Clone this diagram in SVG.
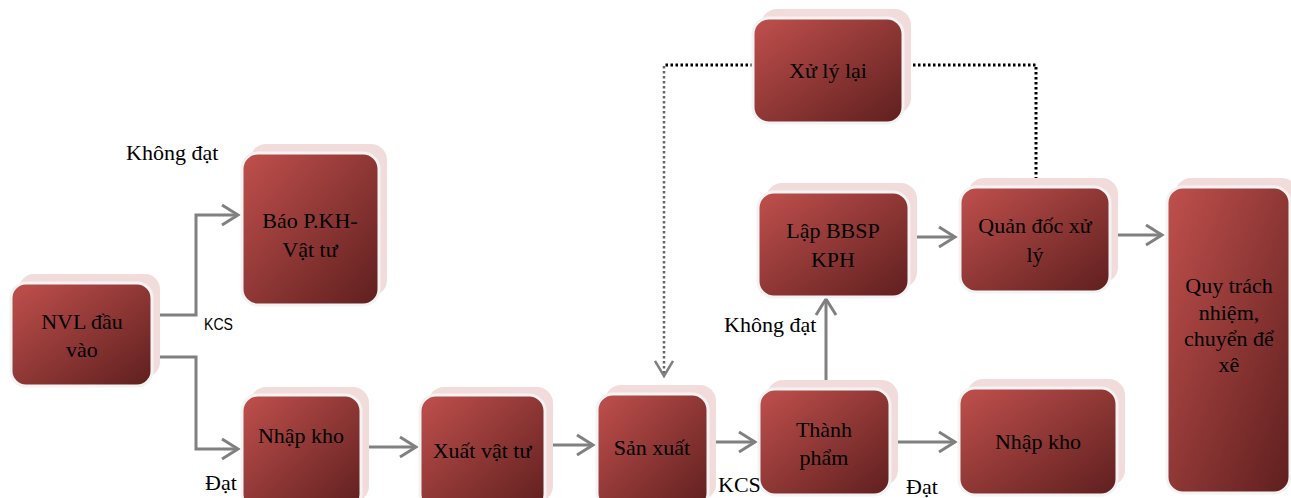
<svg xmlns="http://www.w3.org/2000/svg" width="1291" height="498" viewBox="0 0 1291 498">
<defs>
<linearGradient id="g" x1="0" y1="0" x2="1" y2="1">
<stop offset="0" stop-color="#c0504d"/>
<stop offset="1" stop-color="#5e1f1e"/>
</linearGradient>
<marker id="ah" markerWidth="20" markerHeight="24" refX="17" refY="12" orient="auto" markerUnits="userSpaceOnUse">
<path d="M1,2 L17,12 L1,22" fill="none" stroke="#808080" stroke-width="3"/>
</marker>
<marker id="ahd" markerWidth="22" markerHeight="20" refX="16" refY="10" orient="auto" markerUnits="userSpaceOnUse">
<path d="M1,1 L16,10 L1,19" fill="none" stroke="#808080" stroke-width="2.5"/>
</marker>
</defs>
<style>
.sh{fill:#f2dcdb}
.bx{fill:url(#g);stroke:#f3f3f3;stroke-width:3}
.t{font-family:"Liberation Serif","Times New Roman",serif;font-size:22px;fill:#000}
.c{text-anchor:middle}
.ln{fill:none;stroke:#808080;stroke-width:3}
.dt{fill:none;stroke:#000;stroke-width:3;stroke-dasharray:2.5 2.5}
.dt2{fill:none;stroke:#666;stroke-width:2.5;stroke-dasharray:2.5 2.5}
.s{font-family:"Liberation Sans",Arial,sans-serif;font-size:16px;fill:#000}
</style>
<rect width="1291" height="498" fill="#fff"/>

<g id="connectors">
<path class="ln" d="M152,315 H196 V215 H238" marker-end="url(#ah)"/>
<path class="ln" d="M152,357 H196 V449 H238" marker-end="url(#ah)"/>
<path class="ln" d="M361,447 H416" marker-end="url(#ah)"/>
<path class="ln" d="M545,445 H593" marker-end="url(#ah)"/>
<path class="ln" d="M708,442 H755" marker-end="url(#ah)"/>
<path class="ln" d="M890,442 H955" marker-end="url(#ah)"/>
<path class="ln" d="M826,389 V299" marker-end="url(#ah)"/>
<path class="ln" d="M909,237 H955" marker-end="url(#ah)"/>
<path class="ln" d="M1110,235 H1162" marker-end="url(#ah)"/>
<path class="dt" d="M753,65 H664"/>
<path class="dt2" d="M664,66 V376" marker-end="url(#ahd)"/>
<path class="dt" d="M903,65 H1036 V187"/>
</g>

<g id="n-nvl">
<rect class="sh" x="19" y="274" width="141" height="103" rx="15"/>
<rect class="bx" x="11" y="283" width="141" height="103" rx="15"/>
<text class="t c" x="82" y="329">NVL đầu</text>
<text class="t c" x="82" y="357">vào</text>
</g>
<g id="n-bao">
<rect class="sh" x="250" y="144" width="137" height="152" rx="16"/>
<rect class="bx" x="242" y="153" width="137" height="152" rx="16"/>
<text class="t c" x="310" y="228">Báo P.KH-</text>
<text class="t c" x="310" y="257">Vật tư</text>
</g>
<g id="n-nhapkho1">
<rect class="sh" x="250" y="387" width="119" height="115" rx="16"/>
<rect class="bx" x="242" y="395" width="119" height="115" rx="16"/>
<text class="t c" x="301" y="443">Nhập kho</text>
</g>
<g id="n-xuat">
<rect class="sh" x="428" y="387" width="125" height="115" rx="16"/>
<rect class="bx" x="420" y="395" width="125" height="115" rx="16"/>
<text class="t c" x="482" y="458">Xuất vật tư</text>
</g>
<g id="n-sanxuat">
<rect class="sh" x="605" y="385" width="111" height="115" rx="16"/>
<rect class="bx" x="597" y="394" width="111" height="115" rx="16"/>
<text class="t c" x="652" y="455">Sản xuất</text>
</g>
<g id="n-thanhpham">
<rect class="sh" x="767" y="380" width="131" height="106" rx="16"/>
<rect class="bx" x="759" y="389" width="131" height="106" rx="16"/>
<text class="t c" x="824" y="437">Thành</text>
<text class="t c" x="824" y="465">phẩm</text>
</g>
<g id="n-nhapkho2">
<rect class="sh" x="967" y="379" width="158" height="107" rx="16"/>
<rect class="bx" x="959" y="388" width="158" height="107" rx="16"/>
<text class="t c" x="1038" y="449">Nhập kho</text>
</g>
<g id="n-xulylai">
<rect class="sh" x="761" y="9" width="150" height="105" rx="16"/>
<rect class="bx" x="753" y="18" width="150" height="105" rx="16"/>
<text class="t c" x="828" y="78">Xử lý lại</text>
</g>
<g id="n-lapbbsp">
<rect class="sh" x="766" y="183" width="151" height="105" rx="16"/>
<rect class="bx" x="758" y="192" width="151" height="105" rx="16"/>
<text class="t c" x="833" y="238">Lập BBSP</text>
<text class="t c" x="833" y="267">KPH</text>
</g>
<g id="n-quandoc">
<rect class="sh" x="968" y="178" width="150" height="105" rx="16"/>
<rect class="bx" x="960" y="187" width="150" height="105" rx="16"/>
<text class="t c" x="1035" y="233">Quản đốc xử</text>
<text class="t c" x="1035" y="262">lý</text>
</g>
<g id="n-quy">
<rect class="sh" x="1175" y="178" width="123" height="306" rx="16"/>
<rect class="bx" x="1167" y="187" width="123" height="306" rx="16"/>
<text class="t c" x="1229" y="293">Quy trách</text>
<text class="t c" x="1229" y="320">nhiệm,</text>
<text class="t c" x="1229" y="346">chuyển để</text>
<text class="t c" x="1229" y="372">xê</text>
</g>

<g id="labels">
<text class="t" x="126" y="160">Không đạt</text>
<text class="s" x="204" y="330" textLength="29" lengthAdjust="spacingAndGlyphs">KCS</text>
<text class="t" x="205" y="490">Đạt</text>
<text class="t" x="718" y="492">KCS</text>
<text class="t" x="906" y="494">Đạt</text>
<text class="t" x="724" y="332">Không đạt</text>
</g>
</svg>
